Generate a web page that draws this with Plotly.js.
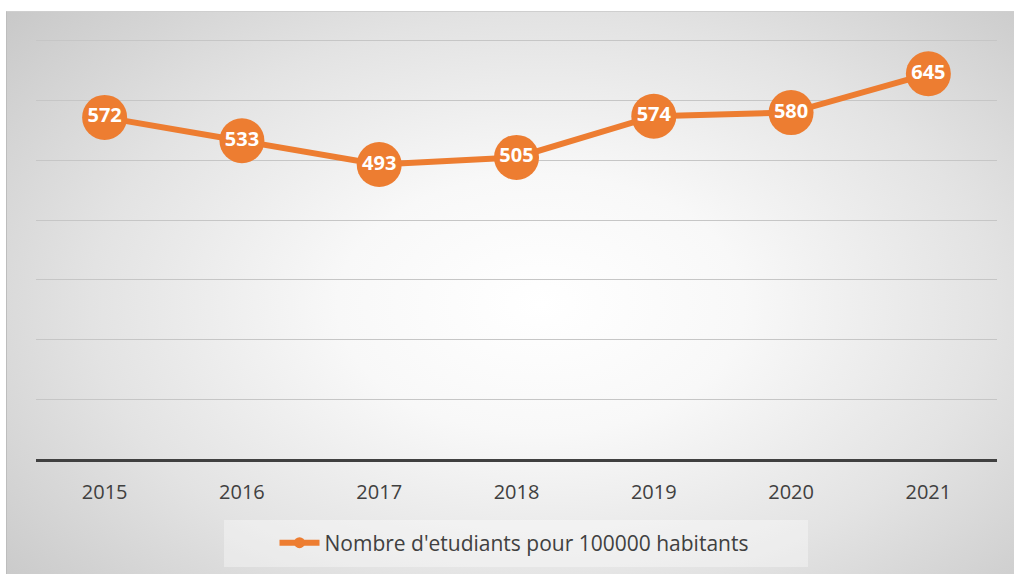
<!DOCTYPE html>
<html>
<head>
<meta charset="utf-8">
<script src="https://cdn.plot.ly/plotly-3.0.1.min.js"></script>
<style>
html,body{margin:0;padding:0;background:#fff;width:1014px;height:575px;overflow:hidden;}
#bg{position:absolute;left:6px;top:11px;width:1008px;height:563px;
background:radial-gradient(ellipse 72% 82% at 53% 52%, #ffffff 0%, #f8f8f8 28%, #e3e3e3 62%, #c6c6c6 100%);
border-left:1px solid #bdbdbd;border-top:1px solid #cfcfcf;box-sizing:border-box;}
#chart{position:absolute;left:0;top:0;width:1014px;height:575px;}
</style>
</head>
<body>
<div id="bg"></div>
<div id="chart"></div>
<script>
var years = ["2015","2016","2017","2018","2019","2020","2021"];
var values = [572, 533, 493, 505, 574, 580, 645];
var seriesName = "Nombre d'etudiants pour 100000 habitants";
var gridVals = [0, 100, 200, 300, 400, 500, 600, 700];
var orange = "#ED7D31";

var main = {
  x: years, y: values, type: "scatter", mode: "lines+markers+text",
  text: values.map(String), textposition: "middle center",
  textfont: {family: "Open Sans, sans-serif", size: 20, color: "#ffffff", weight: 700},
  line: {color: orange, width: 6},
  marker: {color: orange, size: 45},
  showlegend: false, hoverinfo: "x+y", cliponaxis: false
};
var legendTrace = {
  x: [years[0]], y: [null], type: "scatter", mode: "lines+markers",
  name: seriesName,
  line: {color: orange, width: 6},
  marker: {color: orange, size: 11},
  showlegend: true
};

var layout = {
  width: 1014, height: 575,
  margin: {l: 36, r: 17, t: 29, b: 116},
  paper_bgcolor: "rgba(0,0,0,0)", plot_bgcolor: "rgba(0,0,0,0)",
  xaxis: {
    type: "category", range: [-0.5, 6.5], showgrid: false,
    showline: true, linecolor: "#404040", linewidth: 3,
    ticks: "outside", ticklen: 13, tickcolor: "rgba(0,0,0,0)",
    tickfont: {family: "Open Sans, sans-serif", size: 20, color: "#404040"},
    zeroline: false, fixedrange: true
  },
  yaxis: {
    range: [0, 720], tickvals: gridVals, showgrid: true, gridcolor: "#c6c6c6", gridwidth: 1,
    showticklabels: false, zeroline: false, showline: false, fixedrange: true
  },
  shapes: [{
    type: "rect", xref: "paper", yref: "paper", layer: "below",
    x0: (224-36)/961, x1: (808-36)/961, y0: (459-567)/430, y1: (459-520)/430,
    fillcolor: "rgba(255,255,255,0.35)", line: {width: 0}
  }],
  legend: {
    orientation: "h", x: (514-36)/961, xanchor: "center", y: (459-543)/430, yanchor: "middle",
    bgcolor: "rgba(0,0,0,0)", itemwidth: 40,
    font: {family: "Open Sans, sans-serif", size: 21, color: "#404040"}
  },
  showlegend: true
};

Plotly.newPlot("chart", [main, legendTrace], layout, {displayModeBar: false, staticPlot: true});
</script>
</body>
</html>
